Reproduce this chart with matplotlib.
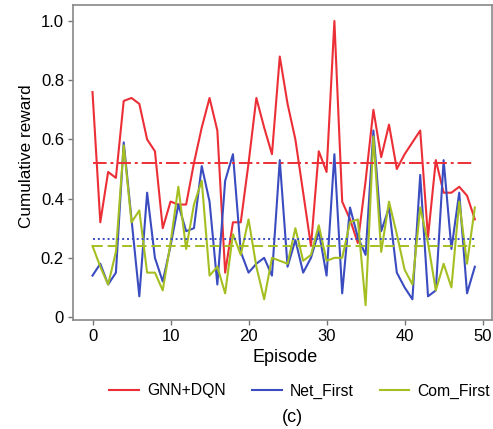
import matplotlib
matplotlib.use("Agg")
import matplotlib.pyplot as plt

plt.rcParams["font.family"] = ["Liberation Sans", "DejaVu Sans"]

episodes = list(range(50))

gnn_dqn = [0.76, 0.32, 0.49, 0.47, 0.73, 0.74, 0.72, 0.60, 0.56, 0.30,
           0.39, 0.38, 0.38, 0.52, 0.64, 0.74, 0.63, 0.15, 0.32, 0.32,
           0.52, 0.74, 0.64, 0.55, 0.88, 0.72, 0.60, 0.42, 0.24, 0.56,
           0.49, 1.00, 0.39, 0.33, 0.25, 0.46, 0.70, 0.54, 0.65, 0.50,
           0.55, 0.59, 0.63, 0.27, 0.53, 0.42, 0.42, 0.44, 0.41, 0.33]
net_first = [0.14, 0.18, 0.11, 0.15, 0.59, 0.33, 0.07, 0.42, 0.20, 0.12,
             0.24, 0.38, 0.29, 0.30, 0.51, 0.39, 0.11, 0.46, 0.55, 0.22,
             0.15, 0.18, 0.20, 0.14, 0.53, 0.17, 0.26, 0.15, 0.20, 0.29,
             0.14, 0.55, 0.08, 0.37, 0.27, 0.21, 0.63, 0.29, 0.37, 0.15,
             0.10, 0.06, 0.48, 0.07, 0.09, 0.53, 0.23, 0.42, 0.08, 0.17]
com_first = [0.24, 0.17, 0.11, 0.22, 0.58, 0.32, 0.36, 0.15, 0.15, 0.09,
             0.25, 0.44, 0.23, 0.38, 0.46, 0.14, 0.17, 0.08, 0.28, 0.21,
             0.33, 0.17, 0.06, 0.20, 0.19, 0.18, 0.30, 0.19, 0.21, 0.31,
             0.19, 0.20, 0.20, 0.32, 0.33, 0.04, 0.61, 0.22, 0.39, 0.28,
             0.16, 0.11, 0.37, 0.25, 0.09, 0.18, 0.10, 0.39, 0.18, 0.37]

# average lines
mean_gnn = 0.519
mean_net = 0.263
mean_com = 0.240

labels = ["GNN+DQN", "Net_First", "Com_First"]
colors = ["#ec2f36", "#3a4cc0", "#a5bf22"]
mean_styles = [(0, (7, 2, 1.5, 2)), (0, (1, 1.5)), (0, (5, 2.5))]

fig = plt.figure(figsize=(4.93, 4.29), dpi=100)
ax = fig.add_axes([73 / 493, 1 - 320 / 429, 419 / 493, 315 / 429])

for ys, c, lab in zip([gnn_dqn, net_first, com_first], colors, labels):
    ax.plot(episodes, ys, color=c, lw=1.5, label=lab)
for m, c, ls in zip([mean_gnn, mean_net, mean_com], colors, mean_styles):
    ax.hlines(m, episodes[0], episodes[-1], color=c, lw=1.4, linestyles=[ls])

ax.set_xlim(-2.5, 51.2)
ax.set_ylim(-0.01, 1.054)
ax.set_xticks([0, 10, 20, 30, 40, 50])
ax.set_yticks([0, 0.2, 0.4, 0.6, 0.8, 1.0])
ax.set_yticklabels(["0", "0.2", "0.4", "0.6", "0.8", "1.0"])
ax.tick_params(labelsize=12, length=3.5, color="#777777", width=1, pad=3)
for s in ax.spines.values():
    s.set_color("#888888")
    s.set_linewidth(1.2)
ax.set_xlabel("Episode", fontsize=13, va="center")
ax.xaxis.set_label_coords((285.5 - 73) / 419, (320 - 358) / 315)
ax.set_ylabel("Cumulative reward", fontsize=12.3, va="center")
ax.yaxis.set_label_coords((26.7 - 73) / 419, (320 - 156) / 315)

fig.legend(loc="center left", bbox_to_anchor=(103 / 493, 1 - 391 / 429),
           ncol=3, frameon=False, fontsize=11.3, handlelength=1.9,
           handletextpad=0.53, columnspacing=1.64, borderaxespad=0)
fig.text(292 / 493, 1 - 417 / 429, "(c)", ha="center", va="center", fontsize=13)

fig.savefig("out.png", dpi=100)
plt.close(fig)
